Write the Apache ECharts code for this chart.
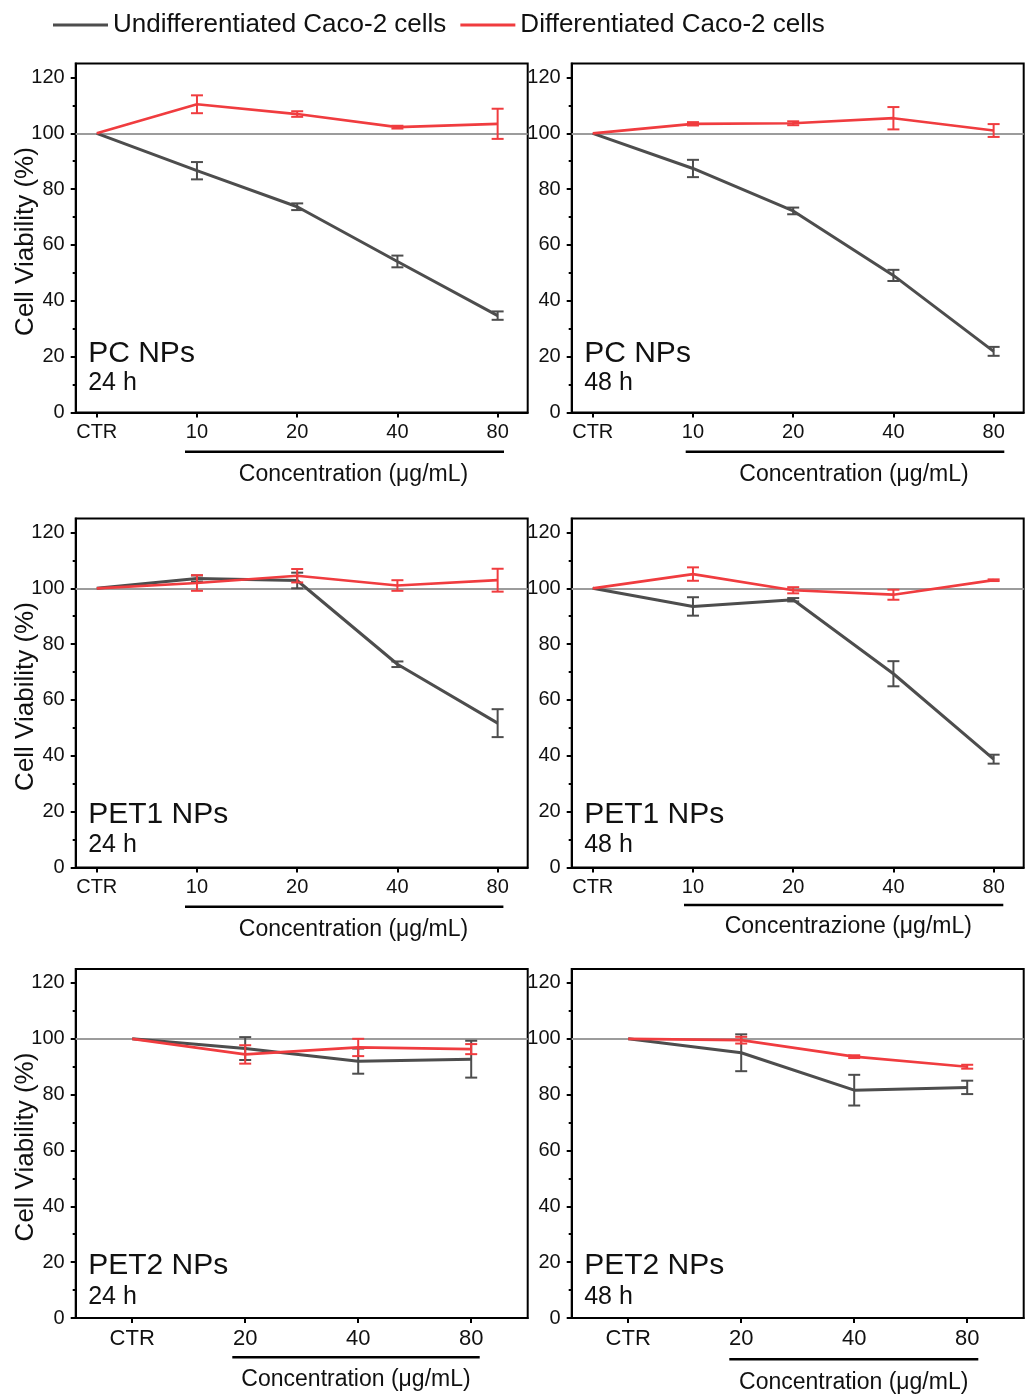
<!DOCTYPE html>
<html>
<head>
<meta charset="utf-8">
<script src="https://cdn.jsdelivr.net/npm/echarts@6/dist/echarts.min.js"></script>
<style>
  html, body { margin: 0; padding: 0; background: #ffffff; }
  #chart { width: 1029px; height: 1398px; }
</style>
</head>
<body>
<div id="chart"></div>
<script>
// ---- dose categories and axis ticks ----
const doseLabels = ['CTR', '10', '20', '40', '80'];
const doseLabelsPet2 = ['CTR', '20', '40', '80'];
const viabilityTicks = [0, 20, 40, 60, 80, 100, 120];
const viabilityMinorTicks = [10, 30, 50, 70, 90, 110];

// ---- cell viability (%) : mean and SD per dose ----
// PC NPs, 24 h
const pc24Undiff = [100, 86.6, 73.7, 54.1, 34.7];
const pc24UndiffSd = [0, 3.1, 1.2, 2.1, 1.5];
const pc24Diff = [100, 110.4, 106.9, 102.2, 103.4];
const pc24DiffSd = [0, 3.2, 1.0, 0.5, 5.4];
// PC NPs, 48 h
const pc48Undiff = [100, 87.4, 72.2, 49.1, 21.9];
const pc48UndiffSd = [0, 3.1, 1.2, 2.0, 1.6];
const pc48Diff = [100, 103.4, 103.6, 105.4, 101.0];
const pc48DiffSd = [0, 0.6, 0.7, 4.0, 2.3];
// PET1 NPs, 24 h
const pet1h24Undiff = [100, 103.5, 102.8, 72.8, 51.7];
const pet1h24UndiffSd = [0, 1.1, 2.8, 1.0, 5.0];
const pet1h24Diff = [100, 101.9, 104.5, 101.0, 102.9];
const pet1h24DiffSd = [0, 2.8, 2.4, 1.9, 4.1];
// PET1 NPs, 48 h
const pet1h48Undiff = [100, 93.5, 95.9, 69.4, 38.8];
const pet1h48UndiffSd = [0, 3.3, 0.6, 4.5, 1.6];
const pet1h48Diff = [100, 105.1, 99.3, 97.7, 102.9];
const pet1h48DiffSd = [0, 2.4, 1.1, 1.8, 0.3];
// PET2 NPs, 24 h
const pet2h24Undiff = [100, 96.5, 92.0, 92.7];
const pet2h24UndiffSd = [0, 4.1, 4.5, 6.6];
const pet2h24Diff = [100, 94.4, 96.9, 96.3];
const pet2h24DiffSd = [0, 3.3, 3.1, 1.8];
// PET2 NPs, 48 h
const pet2h48Undiff = [100, 95.0, 81.6, 82.6];
const pet2h48UndiffSd = [0, 6.6, 5.5, 2.4];
const pet2h48Diff = [100, 99.5, 93.6, 90.0];
const pet2h48DiffSd = [0, 1.2, 0.5, 0.7];

const UNDIFF = 'Undifferentiated Caco-2 cells';
const DIFF = 'Differentiated Caco-2 cells';
const GREY = '#4d4d4d';
const RED = '#f03c3f';
const REF = '#9c9c9c';
const INK = '#111111';
const FONT = '"Liberation Sans", Arial, Helvetica, sans-serif';

const panels = [
  { title: 'PC NPs',   time: '24 h', labels: doseLabels,     u: pc24Undiff,    us: pc24UndiffSd,    d: pc24Diff,    ds: pc24DiffSd,    xName: 'Concentration (μg/mL)' },
  { title: 'PC NPs',   time: '48 h', labels: doseLabels,     u: pc48Undiff,    us: pc48UndiffSd,    d: pc48Diff,    ds: pc48DiffSd,    xName: 'Concentration (μg/mL)' },
  { title: 'PET1 NPs', time: '24 h', labels: doseLabels,     u: pet1h24Undiff, us: pet1h24UndiffSd, d: pet1h24Diff, ds: pet1h24DiffSd, xName: 'Concentration (μg/mL)' },
  { title: 'PET1 NPs', time: '48 h', labels: doseLabels,     u: pet1h48Undiff, us: pet1h48UndiffSd, d: pet1h48Diff, ds: pet1h48DiffSd, xName: 'Concentrazione (μg/mL)' },
  { title: 'PET2 NPs', time: '24 h', labels: doseLabelsPet2, u: pet2h24Undiff, us: pet2h24UndiffSd, d: pet2h24Diff, ds: pet2h24DiffSd, xName: 'Concentration (μg/mL)' },
  { title: 'PET2 NPs', time: '48 h', labels: doseLabelsPet2, u: pet2h48Undiff, us: pet2h48UndiffSd, d: pet2h48Diff, ds: pet2h48DiffSd, xName: 'Concentration (μg/mL)' }
];

// ---- page layout (pixels) ----
const colLeft = [75.7, 571.7];
const rowTop = [63.5, 518.5, 969];
const plotW = 452;
const plotH = 349;
// concentration bracket / caption per panel, relative to plot left & bottom
const bracket = [
  { x0: 109.3, x1: 428.3, dy: 39.2, cx: 277.8, ty: 62.5 },
  { x0: 114.0, x1: 432.6, dy: 39.2, cx: 282.3, ty: 62.5 },
  { x0: 109.3, x1: 427.7, dy: 39.2, cx: 277.8, ty: 62.5 },
  { x0: 112.3, x1: 431.6, dy: 37.5, cx: 276.6, ty: 59.5 },
  { x0: 156.6, x1: 404.0, dy: 39.2, cx: 280.3, ty: 62.0 },
  { x0: 157.6, x1: 406.6, dy: 41.3, cx: 282.0, ty: 64.5 }
];
// panel caption offsets above plot bottom, per row
const captionOffset = [ { t: 59, h: 29 }, { t: 53, h: 22 }, { t: 52, h: 21 } ];
// dose label size per row
const doseFontSize = [20, 20, 22];

function errorBarItem(color) {
  return function (params, api) {
    const x = api.value(0);
    const lo = api.coord([x, api.value(1)]);
    const hi = api.coord([x, api.value(2)]);
    const cap = 6;
    const style = { stroke: color, lineWidth: 2 };
    return {
      type: 'group',
      children: [
        { type: 'line', shape: { x1: lo[0], y1: lo[1], x2: hi[0], y2: hi[1] }, style },
        { type: 'line', shape: { x1: lo[0] - cap, y1: lo[1], x2: lo[0] + cap, y2: lo[1] }, style },
        { type: 'line', shape: { x1: hi[0] - cap, y1: hi[1], x2: hi[0] + cap, y2: hi[1] }, style }
      ]
    };
  };
}

const grids = [], xAxes = [], yAxes = [], series = [], graphics = [];

panels.forEach((p, g) => {
  const row = Math.floor(g / 2), col = g % 2;
  const left = colLeft[col], top = rowTop[row], bottom = top + plotH;
  const n = p.labels.length;
  const idx = p.labels.map((_, i) => i);
  const xMin = n === 5 ? -0.21 : -0.5;
  const xMax = n === 5 ? 4.3 : 3.5;

  grids.push({
    left: left, top: top, width: plotW, height: plotH,
    show: true, borderColor: '#000', borderWidth: 2,
    containLabel: false, outerBoundsMode: 'none'
  });

  xAxes.push({
    gridIndex: g, type: 'value', min: xMin, max: xMax, position: 'bottom',
    axisLine: { show: true, onZero: false, lineStyle: { color: '#000', width: 2 } },
    axisTick: { show: true, customValues: idx, length: 5, lineStyle: { color: '#000', width: 2 } },
    axisLabel: { show: true, customValues: idx, formatter: v => p.labels[Math.round(v)],
                 fontSize: doseFontSize[row], color: INK, margin: 10, fontFamily: FONT },
    splitLine: { show: false }
  });

  yAxes.push({
    gridIndex: g, type: 'value', min: 0, max: 125, position: 'left',
    axisLine: { show: true, onZero: false, lineStyle: { color: '#000', width: 2 } },
    axisTick: { show: true, customValues: viabilityTicks, length: 5, lineStyle: { color: '#000', width: 2 } },
    axisLabel: { show: true, customValues: viabilityTicks, fontSize: 20, color: INK, margin: 11, fontFamily: FONT },
    splitLine: { show: false }
  });
  yAxes.push({
    gridIndex: g, type: 'value', min: 0, max: 125, position: 'left',
    axisLine: { show: false, onZero: false },
    axisTick: { show: true, customValues: viabilityMinorTicks, length: 3, lineStyle: { color: '#000', width: 2 } },
    axisLabel: { show: false },
    splitLine: { show: false }
  });

  const yIdx = 2 * g;
  const lineData = arr => arr.map((v, i) => [i, v]);
  const errData = (m, s) => m.map((v, i) => [i, v - s[i], v + s[i]]).filter((_, i) => s[i] > 0);

  series.push({
    name: UNDIFF, type: 'line', xAxisIndex: g, yAxisIndex: yIdx, z: 2,
    data: lineData(p.u), showSymbol: false, symbol: 'none',
    lineStyle: { color: GREY, width: 3 }, itemStyle: { color: GREY },
    markLine: {
      z: 1, silent: true, symbol: 'none', label: { show: false },
      lineStyle: { color: REF, width: 2, type: 'solid' },
      data: [{ yAxis: 100 }]
    }
  });
  series.push({
    name: UNDIFF, type: 'custom', xAxisIndex: g, yAxisIndex: yIdx, z: 3,
    data: errData(p.u, p.us), encode: { x: 0, y: [1, 2] },
    renderItem: errorBarItem(GREY), itemStyle: { color: GREY }
  });
  series.push({
    name: DIFF, type: 'line', xAxisIndex: g, yAxisIndex: yIdx, z: 4,
    data: lineData(p.d), showSymbol: false, symbol: 'none',
    lineStyle: { color: RED, width: 2.7 }, itemStyle: { color: RED }
  });
  series.push({
    name: DIFF, type: 'custom', xAxisIndex: g, yAxisIndex: yIdx, z: 5,
    data: errData(p.d, p.ds), encode: { x: 0, y: [1, 2] },
    renderItem: errorBarItem(RED), itemStyle: { color: RED }
  });

  // panel captions
  const off = captionOffset[row];
  graphics.push({
    type: 'text', x: left + 12.5, y: bottom - off.t, silent: true,
    style: { text: p.title, fontSize: 30, fill: INK, fontFamily: FONT, align: 'left', verticalAlign: 'middle' }
  });
  graphics.push({
    type: 'text', x: left + 12.5, y: bottom - off.h, silent: true,
    style: { text: p.time, fontSize: 25, fill: INK, fontFamily: FONT, align: 'left', verticalAlign: 'middle' }
  });

  // concentration bracket and caption
  const b = bracket[g];
  graphics.push({
    type: 'line', silent: true,
    shape: { x1: left + b.x0, y1: bottom + b.dy, x2: left + b.x1, y2: bottom + b.dy },
    style: { stroke: '#000', lineWidth: 2.5 }
  });
  graphics.push({
    type: 'text', x: left + b.cx, y: bottom + b.ty, silent: true,
    style: { text: p.xName, fontSize: 23, fill: INK, fontFamily: FONT, align: 'center', verticalAlign: 'middle' }
  });

  // y-axis title on the left column
  if (col === 0) {
    graphics.push({
      type: 'text', x: 26, y: top + plotH / 2 + 3.5, rotation: Math.PI / 2, silent: true,
      style: { text: 'Cell Viability (%)', fontSize: 26, fill: INK, fontFamily: FONT, align: 'center', verticalAlign: 'middle' }
    });
  }
});

const chart = echarts.init(document.getElementById('chart'), null, { renderer: 'canvas' });
chart.setOption({
  animation: false,
  backgroundColor: '#ffffff',
  textStyle: { fontFamily: FONT },
  legend: {
    left: 53, top: 12, padding: 0, itemWidth: 55, itemHeight: 3, itemGap: 14, icon: 'rect',
    selectedMode: false,
    textStyle: { fontSize: 26, color: INK, fontFamily: FONT },
    data: [UNDIFF, DIFF]
  },
  grid: grids,
  xAxis: xAxes,
  yAxis: yAxes,
  series: series,
  graphic: graphics
});
</script>
</body>
</html>
